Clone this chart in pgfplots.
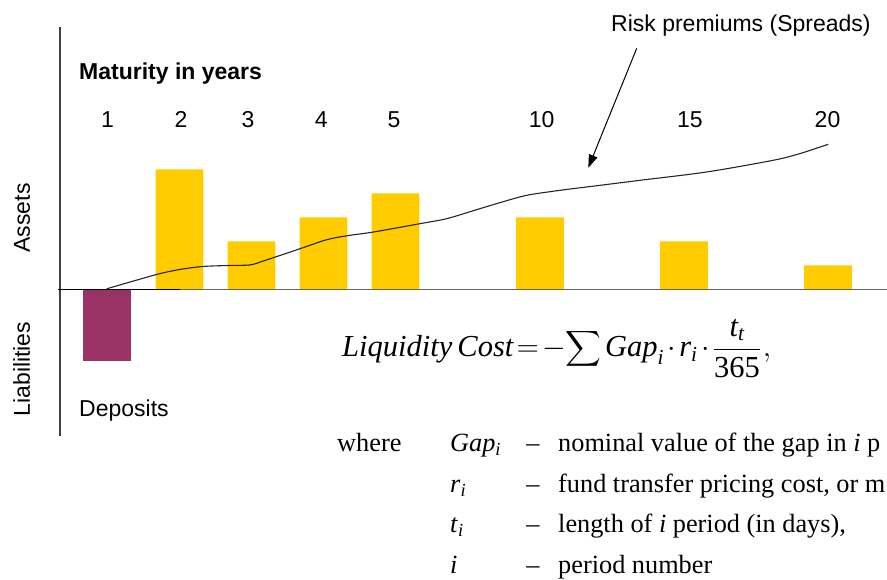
\RequirePackage{fix-cm}
\documentclass[border=0pt]{standalone}
\usepackage{amsmath}
\usepackage{fontspec}
\setmainfont{Liberation Serif}
\setsansfont{Liberation Sans}
\usepackage{pgfplots}
\pgfplotsset{compat=1.18}
\usetikzlibrary{arrows.meta}
\definecolor{barY}{HTML}{FFCC00}
\definecolor{barP}{HTML}{993366}
\newcommand\lab{\sffamily\fontsize{23}{27}\selectfont}
\newcommand\txt{\rmfamily\fontsize{26.3}{31}\selectfont}
\begin{document}
\begin{tikzpicture}
\path[use as bounding box] (0,0) rectangle (887pt,579pt);
\clip (0,0) rectangle (887pt,579pt);
\begin{axis}[
  at={(0,0)}, anchor=south west,
  scale only axis, width=887pt, height=579pt,
  xmin=-0.4931, xmax=11.8264, ymin=-12.0417, ymax=12.0417,
  axis line style={draw=none}, ytick=\empty,
  xtick={1.0,2.02,2.95,3.97,4.98,7.03,9.09,11.0},
  xticklabels={1,2,3,4,5,10,15,20},
  xticklabel pos=upper, major tick length=0pt,
  xticklabel style={anchor=base, yshift=-128pt, font=\lab, inner sep=0pt},
  clip=false]
% assets
\addplot[ybar, bar width=0.6625, bar shift=0pt, fill=barY, draw=none]
  coordinates {(2,5) (3,2) (4,3) (5,4) (7.007,3) (9.007,2) (11.007,1)};
% liabilities
\addplot[ybar, bar width=0.6625, bar shift=0pt, fill=barP, draw=none]
  coordinates {(0.997,-2.96)};
% axes lines
\addplot[line width=1.3pt, color=black!75] coordinates {(0.340,10.917) (0.340,-6.083)};
\addplot[line width=1.8pt, color=black!60] coordinates {(0.3125,0) (11.83,0)};
\addplot[line width=1.2pt, color=black] coordinates {(0.3125,0) (2.007,0)};
% risk premium curve
\addplot[smooth, tension=0.5, line width=1.1pt, color=black!85] coordinates {
 (0.989,0.029) (1.683,0.625) (2.007,0.833) (2.326,0.958) (2.701,1.000)
 (2.979,1.021) (3.146,1.167) (3.326,1.346) (3.674,1.696) (4.044,2.071)
 (4.331,2.238) (4.688,2.388) (5.340,2.738) (5.711,2.946) (6.128,3.321)
 (6.451,3.613) (6.822,3.917) (7.285,4.125) (7.840,4.333) (8.396,4.542)
 (9.322,4.888) (10.247,5.375) (10.618,5.654) (11.011,6.042)};
% arrow
\addplot[line width=1pt, -{Triangle[length=13pt,width=9pt]}] coordinates {(8.350,10.029) (7.678,5.063)};
\end{axis}
% labels
\node[anchor=base west, inner sep=0pt, font=\lab\bfseries] at (79pt,499pt) {Maturity in years};
\node[anchor=base west, inner sep=0pt, font=\lab] at (611pt,547.3pt) {Risk premiums (Spreads)};
\node[anchor=base, inner sep=0pt, rotate=90, font=\lab] at (30pt,361pt) {Assets};
\node[anchor=base, inner sep=0pt, rotate=90, font=\lab] at (30pt,210pt) {Liabilities};
\node[anchor=base west, inner sep=0pt, font=\lab] at (79pt,162.3pt) {Deposits};
% formula
\node[anchor=base west, inner sep=0pt, font=\rmfamily\fontsize{30.5}{36}\selectfont] at (342pt,222.3pt)
 {$\displaystyle \textit{Liquidity\,Cost}\mkern2mu{=}\mkern2mu{-}\mkern-3mu\mathop{\sum}\nolimits\mkern-1mu\textit{Gap}_{\textit{i}}\mkern2mu{\cdot}\mkern2mu\textit{r}_{\textit{i}}\mkern2mu{\cdot}\mkern2mu\frac{\textit{t}_{\textit{t}}}{\text{365}}\mkern1mu{,}$};
% legend of symbols
\node[anchor=base west, inner sep=0pt, font=\txt] at (337pt,127pt) {where};
\node[anchor=base west, inner sep=0pt, font=\txt] at (450pt,127pt) {\textit{Gap}\textsubscript{\textit{i}}};
\node[anchor=base west, inner sep=0pt, font=\txt] at (450pt,86.3pt) {\textit{r}\textsubscript{\textit{i}}};
\node[anchor=base west, inner sep=0pt, font=\txt] at (450pt,46pt) {\textit{t}\textsubscript{\textit{i}}};
\node[anchor=base west, inner sep=0pt, font=\txt] at (450pt,6pt) {\textit{i}};
\foreach \yy in {127,86.3,46,6} {\node[anchor=base, inner sep=0pt, font=\txt] at (533pt,\yy pt) {–};}
\node[anchor=base west, inner sep=0pt, font=\txt] at (558pt,127pt) {nominal value of the gap in \textit{i} p};
\node[anchor=base west, inner sep=0pt, font=\txt] at (558pt,86.3pt) {fund transfer pricing cost, or m};
\node[anchor=base west, inner sep=0pt, font=\txt] at (558pt,46pt) {length of \textit{i} period (in days),};
\node[anchor=base west, inner sep=0pt, font=\txt] at (558pt,6pt) {period number};
\end{tikzpicture}
\end{document}
